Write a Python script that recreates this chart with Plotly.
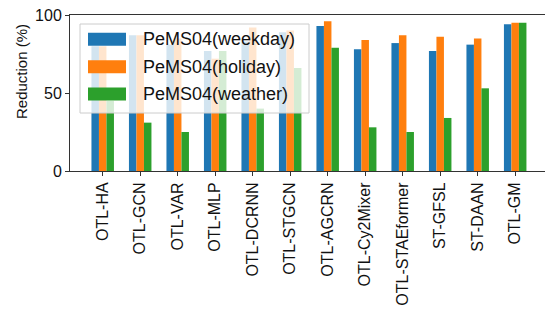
import plotly.graph_objects as go

# Methods on the x axis
methods = ["OTL-HA", "OTL-GCN", "OTL-VAR", "OTL-MLP", "OTL-DCRNN", "OTL-STGCN",
           "OTL-AGCRN", "OTL-Cy2Mixer", "OTL-STAEformer", "ST-GFSL", "ST-DAAN", "OTL-GM"]

# Reduction (%) per scenario
weekday = [80, 87, 81, 77, 83, 89, 93, 78, 82, 77, 81, 94]
holiday = [80, 87, 85, 72, 92, 90, 96, 84, 87, 86, 85, 95]
weather = [45, 31, 25, 77, 40, 66, 79, 28, 25, 34, 53, 95]

series_names = ["PeMS04(weekday)", "PeMS04(holiday)", "PeMS04(weather)"]
series_colors = ["#1f77b4", "#ff7f0e", "#2ca02c"]
yticks = [0, 50, 100]

W, H = 545, 332
ML, MR, MT, MB = 70, 0, 15, 161
FONT = "Liberation Sans, Arial, sans-serif"

x_idx = list(range(len(methods)))

fig = go.Figure()
for name, vals, col in zip(series_names, [weekday, holiday, weather], series_colors):
    fig.add_trace(go.Bar(x=x_idx, y=vals, name=name, marker_color=col,
                         marker_line_width=0, showlegend=False))


def px_x(p):
    return (p - ML) / (W - ML - MR)


def px_y(p):
    return (H - MB - p) / (H - MT - MB)


# Legend box drawn as semi-transparent panel over the bars
shapes = [dict(type="rect", xref="paper", yref="paper",
               x0=px_x(80), x1=px_x(309), y0=px_y(113), y1=px_y(24),
               fillcolor="rgba(255,255,255,0.8)", line=dict(color="#cccccc", width=1),
               layer="above")]
annotations = []
row_centers = [39.3, 66.7, 94.0]
for name, col, yc in zip(series_names, series_colors, row_centers):
    shapes.append(dict(type="rect", xref="paper", yref="paper",
                       x0=px_x(88), x1=px_x(126), y0=px_y(yc + 6.5), y1=px_y(yc - 6.5),
                       fillcolor=col, line=dict(width=0), layer="above"))
    annotations.append(dict(text=name, xref="paper", yref="paper",
                            x=px_x(141), y=px_y(yc), xanchor="left", yanchor="middle",
                            showarrow=False, font=dict(size=18, color="#111", family=FONT)))

annotations.append(dict(text="Reduction (%)", xref="paper", yref="paper",
                        x=px_x(21), y=px_y(72), xanchor="center", yanchor="middle",
                        textangle=-90, showarrow=False,
                        font=dict(size=15, color="#111", family=FONT)))

fig.update_layout(
    width=W, height=H,
    margin=dict(l=ML, r=MR, t=MT, b=MB, pad=0),
    paper_bgcolor="white", plot_bgcolor="white",
    barmode="group", bargap=0.4, bargroupgap=0,
    shapes=shapes, annotations=annotations,
    font=dict(family=FONT, color="#111"),
)
fig.update_xaxes(range=[-0.872, 11.795], tickmode="array", tickvals=x_idx, ticktext=methods,
                 tickangle=-90, ticks="outside", ticklen=4, tickcolor="#333",
                 showline=True, linecolor="#333", linewidth=1, mirror=True,
                 showgrid=False, zeroline=False, tickfont=dict(size=16, family=FONT, color="#111"))
fig.update_yaxes(range=[0, 100], tickvals=yticks, ticks="outside", ticklen=4, tickcolor="#333",
                 showline=True, linecolor="#333", linewidth=1,
                 showgrid=False, zeroline=False, tickfont=dict(size=16, family=FONT, color="#111"))

fig.write_html("out.html")
